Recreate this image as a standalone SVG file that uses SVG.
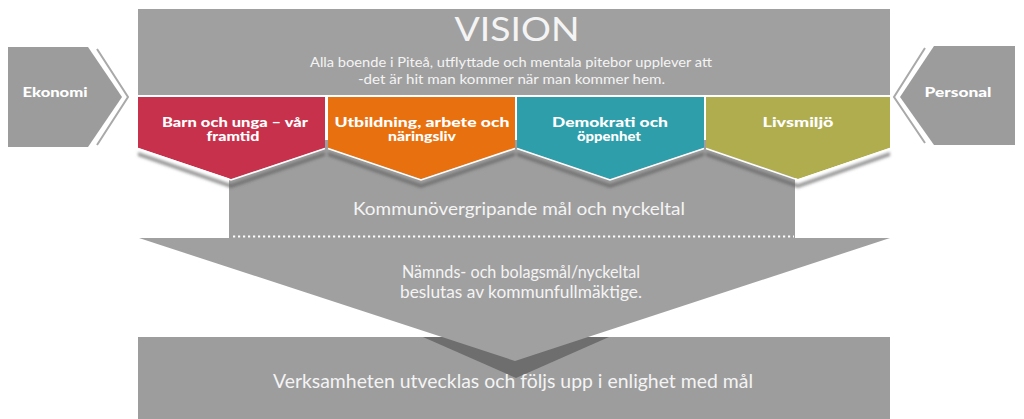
<svg xmlns="http://www.w3.org/2000/svg" width="1024" height="419" viewBox="0 0 1024 419">
<defs>
<style>
.g{fill:#a0a0a0}
.side{fill:#9c9c9c}
.bev{fill:none;stroke:#a9a9a9;stroke-width:2}
.hl{fill:none;stroke:#ffffff;stroke-width:1.6;stroke-linejoin:miter}
.sh{fill:#5e5e5e;opacity:0.65}
.t{font-family:Lato,"Open Sans","Liberation Sans",sans-serif;fill:#f4f4f4;text-anchor:middle}
.b{font-family:Lato,"Open Sans","Liberation Sans",sans-serif;font-weight:900;fill:#ffffff;text-anchor:middle;font-size:13.5px}
</style>
<filter id="blur" x="-10%" y="-30%" width="120%" height="160%"><feGaussianBlur stdDeviation="1.6"/></filter>
<clipPath id="rectclip"><rect x="138" y="337" width="752" height="82"/></clipPath>
</defs>

<g id="bottom">
<rect x="138" y="337" width="752" height="82" style="fill:#9d9d9d"/>
<polygon points="423,337 516,378 609,337" fill="#6e6e6e" clip-path="url(#rectclip)"/>
</g>

<g id="funnel">
<polygon class="g" points="139,238 890,238 515,361"/>
<text class="t" x="521" y="278" font-size="16.5" textLength="238" lengthAdjust="spacingAndGlyphs">Nämnds- och bolagsmål/nyckeltal</text>
<text class="t" x="521" y="298" font-size="16.5" textLength="242" lengthAdjust="spacingAndGlyphs">beslutas av kommunfullmäktige.</text>
</g>

<g id="verksamheten">
<text class="t" x="513" y="388" font-size="19" textLength="480" lengthAdjust="spacingAndGlyphs">Verksamheten utvecklas och följs upp i enlighet med mål</text>
</g>

<g id="kommun">
<rect x="229" y="140" width="566" height="98" style="fill:#9e9e9e"/>
<text class="t" x="519" y="215" font-size="17.5" textLength="332" lengthAdjust="spacingAndGlyphs">Kommunövergripande mål och nyckeltal</text>
</g>

<g id="connectors">
<line x1="233" y1="236.5" x2="794" y2="236.5" stroke="#ffffff" stroke-width="2.2" stroke-dasharray="2.2 2.8"/>
</g>

<g id="vision">
<rect class="g" x="138" y="9" width="752" height="86"/>
<text class="t" x="517" y="41" font-size="32" textLength="125" lengthAdjust="spacingAndGlyphs">VISION</text>
<text class="t" x="511" y="67" font-size="13" textLength="402" lengthAdjust="spacingAndGlyphs">Alla boende i Piteå, utflyttade och mentala pitebor upplever att</text>
<text class="t" x="511.5" y="84" font-size="13" textLength="307" lengthAdjust="spacingAndGlyphs">-det är hit man kommer när man kommer hem.</text>
</g>

<g id="shadows" filter="url(#blur)">
<polygon class="sh" points="138,152 231,184 325,152 325,156 231,188 138,156"/>
<polygon class="sh" points="328,152 421,184 515,152 515,156 421,188 328,156"/>
<polygon class="sh" points="517,152 610,184 704,152 704,156 610,188 517,156"/>
<polygon class="sh" points="706,152 798,184 890,152 890,156 798,188 706,156"/>
</g>

<g id="barn">
<polygon points="138,97 325,97 325,148 231,179 138,148" fill="#c8314b"/>
<polyline class="hl" points="138,148.5 231,180 325,148.5"/>
<text class="b" x="235" y="127" textLength="146" lengthAdjust="spacingAndGlyphs">Barn och unga – vår</text>
<text class="b" x="233" y="141" textLength="53" lengthAdjust="spacingAndGlyphs">framtid</text>
</g>

<g id="utbildning">
<polygon points="328,97 515,97 515,148 421,179 328,148" fill="#e8700f"/>
<polyline class="hl" points="328,148.5 421,180 515,148.5"/>
<text class="b" x="422" y="127" textLength="175" lengthAdjust="spacingAndGlyphs">Utbildning, arbete och</text>
<text class="b" x="422" y="141" textLength="68" lengthAdjust="spacingAndGlyphs">näringsliv</text>
</g>

<g id="demokrati">
<polygon points="517,97 704,97 704,148 610,179 517,148" fill="#2e9eaa"/>
<polyline class="hl" points="517,148.5 610,180 704,148.5"/>
<text class="b" x="610" y="127" textLength="116" lengthAdjust="spacingAndGlyphs">Demokrati och</text>
<text class="b" x="609" y="141" textLength="64" lengthAdjust="spacingAndGlyphs">öppenhet</text>
</g>

<g id="livsmiljo">
<polygon points="706,97 890,97 890,148 798,179 706,148" fill="#b0ad4f"/>
<polyline class="hl" points="706,148.5 798,180 890,148.5"/>
<text class="b" x="798" y="127" textLength="71" lengthAdjust="spacingAndGlyphs">Livsmiljö</text>
</g>

<g id="ekonomi">
<polygon class="side" points="8,47 88,47 122,97 88,147 8,147"/>
<polyline class="bev" points="97,49 128,97 97,145"/>
<text class="b" x="55" y="97" textLength="65" lengthAdjust="spacingAndGlyphs">Ekonomi</text>
</g>

<g id="personal">
<polygon class="side" points="1015,46 934,46 900,97 934,145 1015,145"/>
<polyline class="bev" points="925,48 894,97 925,143"/>
<text class="b" x="958" y="97" textLength="67" lengthAdjust="spacingAndGlyphs">Personal</text>
</g>
</svg>
